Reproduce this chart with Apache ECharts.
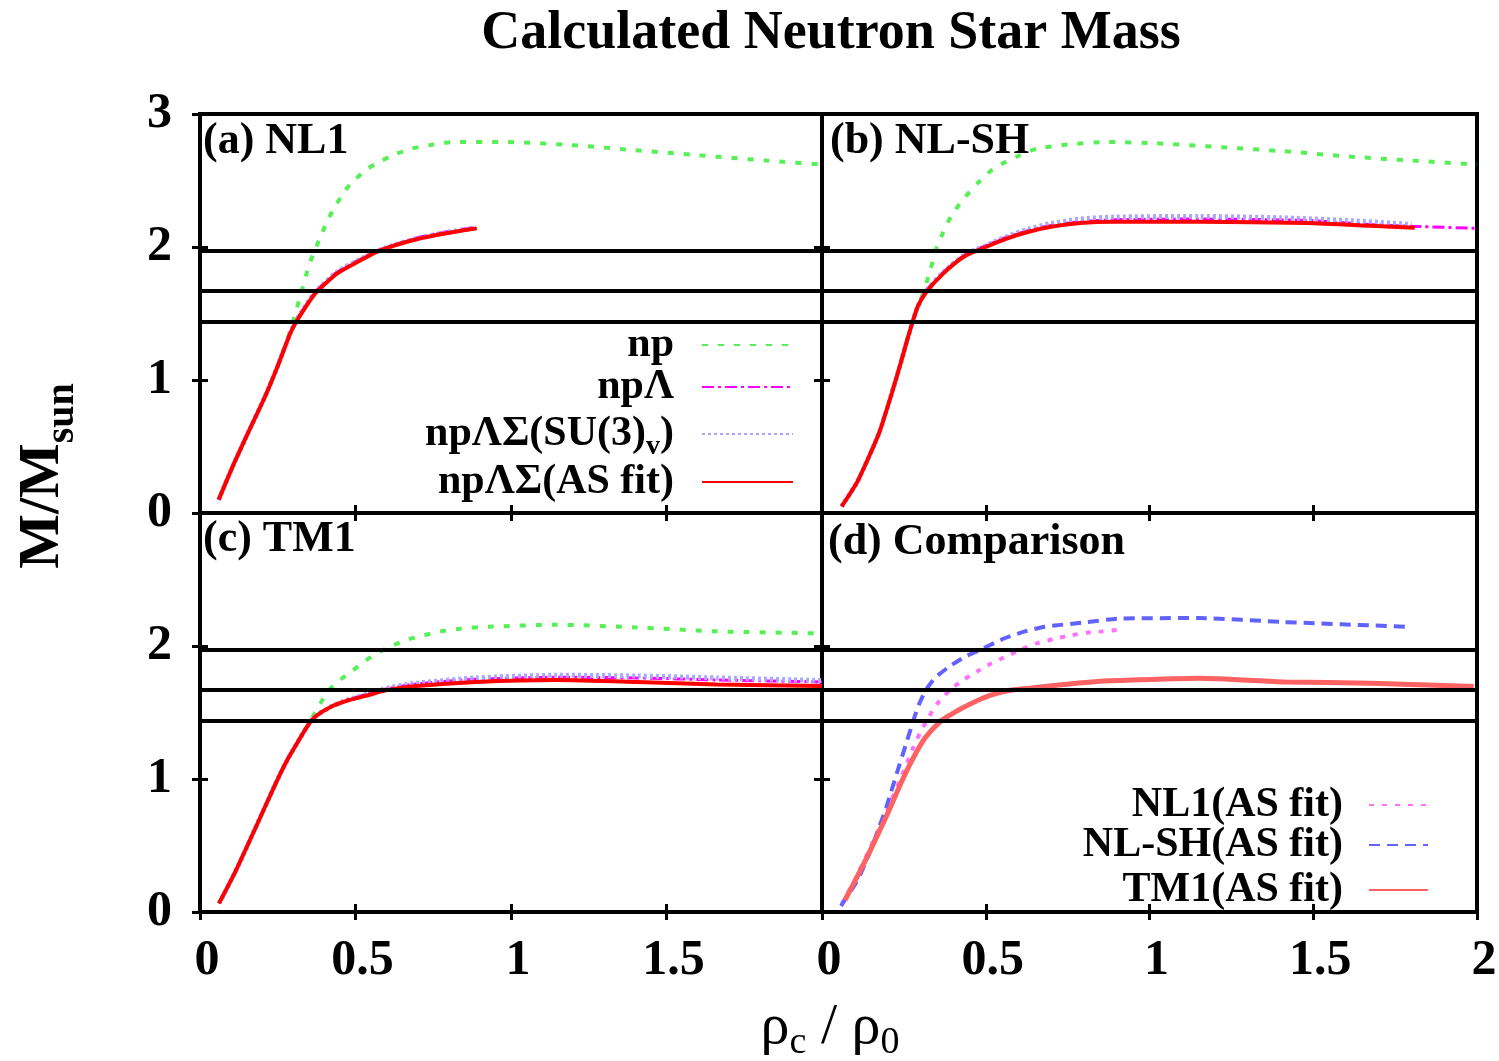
<!DOCTYPE html>
<html>
<head>
<meta charset="utf-8">
<title>Calculated Neutron Star Mass</title>
<script src="https://cdn.jsdelivr.net/npm/echarts@6/dist/echarts.min.js"></script>
<style>
	html, body { margin: 0; padding: 0; background: #fff; }
	#chart { width: 1499px; height: 1061px; }
</style>
</head>
<body>
<div id="chart"></div>
<script>
// axis ticks
var rhoTicks = [0, 0.5, 1, 1.5, 2];
var massTicks = [0, 1, 2, 3];
// observed masses (horizontal lines)
var obsMasses = [1.97, 1.67, 1.44];

var panelNames = ['(a) NL1', '(b) NL-SH', '(c) TM1', '(d) Comparison'];
var hyperonNames = ['np', 'npΛ', 'npΛΣ(SU(3)v)', 'npΛΣ(AS fit)'];
var compareNames = ['NL1(AS fit)', 'NL-SH(AS fit)', 'TM1(AS fit)'];

// (a) NL1  [rho_c/rho_0, M/Msun]
var nl1_np = [[0.06,0.10],[0.107,0.36],[0.158,0.62],[0.21,0.88],[0.249,1.10],[0.28,1.30],[0.30,1.45],[0.326,1.66],[0.35,1.86],[0.37,1.98],[0.39,2.09],[0.41,2.20],[0.436,2.31],[0.468,2.43],[0.50,2.51],[0.54,2.59],[0.585,2.65],[0.63,2.70],[0.68,2.74],[0.75,2.77],[0.82,2.79],[0.97,2.79],[1.17,2.77],[1.39,2.73],[1.60,2.69],[1.82,2.65],[2.0,2.62]];
var nl1_L = [[0.06,0.10],[0.107,0.36],[0.158,0.62],[0.21,0.88],[0.249,1.10],[0.29,1.35],[0.31,1.45],[0.34,1.56],[0.37,1.66],[0.44,1.81],[0.50,1.89],[0.57,1.97],[0.63,2.02],[0.70,2.07],[0.76,2.10],[0.82,2.125],[0.89,2.15]];
var nl1_SU3 = [[0.06,0.10],[0.107,0.36],[0.158,0.62],[0.21,0.88],[0.249,1.10],[0.29,1.35],[0.31,1.45],[0.34,1.56],[0.37,1.66],[0.44,1.81],[0.50,1.89],[0.57,1.97],[0.63,2.02],[0.70,2.065],[0.76,2.095],[0.82,2.12],[0.88,2.14]];
var nl1_AS = [[0.06,0.10],[0.107,0.36],[0.158,0.62],[0.21,0.88],[0.249,1.10],[0.29,1.35],[0.31,1.44],[0.34,1.55],[0.37,1.65],[0.44,1.80],[0.50,1.88],[0.57,1.965],[0.63,2.015],[0.70,2.06],[0.76,2.09],[0.82,2.115],[0.89,2.14]];

// (b) NL-SH
var nlsh_np = [[0.06,0.05],[0.109,0.24],[0.174,0.60],[0.213,0.90],[0.24,1.125],[0.266,1.35],[0.28,1.46],[0.311,1.67],[0.33,1.82],[0.348,1.98],[0.37,2.11],[0.396,2.24],[0.435,2.37],[0.475,2.48],[0.514,2.57],[0.553,2.63],[0.605,2.69],[0.657,2.74],[0.75,2.77],[0.866,2.79],[1.02,2.78],[1.22,2.75],[1.41,2.72],[1.61,2.68],[1.80,2.65],[2.0,2.62]];
var nlsh_L = [[0.06,0.05],[0.109,0.24],[0.174,0.60],[0.213,0.90],[0.24,1.125],[0.266,1.35],[0.292,1.55],[0.318,1.67],[0.37,1.81],[0.435,1.94],[0.50,2.01],[0.566,2.075],[0.631,2.125],[0.696,2.16],[0.788,2.19],[0.892,2.205],[1.15,2.21],[1.48,2.20],[1.675,2.17],[1.81,2.155],[2.0,2.14]];
var nlsh_SU3 = [[0.06,0.05],[0.109,0.24],[0.174,0.60],[0.213,0.90],[0.24,1.125],[0.266,1.35],[0.292,1.55],[0.318,1.67],[0.37,1.81],[0.435,1.94],[0.50,2.01],[0.566,2.08],[0.631,2.135],[0.696,2.175],[0.788,2.21],[0.892,2.225],[1.15,2.23],[1.40,2.22],[1.60,2.20],[1.80,2.17]];
var nlsh_AS = [[0.06,0.05],[0.109,0.24],[0.174,0.60],[0.213,0.90],[0.24,1.125],[0.266,1.35],[0.292,1.55],[0.318,1.66],[0.37,1.80],[0.435,1.93],[0.50,2.0],[0.566,2.065],[0.631,2.115],[0.696,2.15],[0.788,2.18],[0.892,2.19],[1.15,2.19],[1.48,2.18],[1.675,2.16],[1.81,2.145]];

// (c) TM1
var tm1_np = [[0.061,0.065],[0.113,0.30],[0.178,0.63],[0.242,0.96],[0.281,1.145],[0.32,1.30],[0.34,1.38],[0.378,1.53],[0.41,1.656],[0.442,1.73],[0.488,1.81],[0.526,1.88],[0.572,1.95],[0.617,2.0],[0.662,2.045],[0.72,2.08],[0.772,2.11],[0.837,2.13],[0.927,2.145],[1.147,2.16],[1.405,2.14],[1.663,2.11],[2.0,2.095]];
var tm1_L = [[0.061,0.065],[0.113,0.30],[0.178,0.63],[0.242,0.96],[0.281,1.145],[0.32,1.30],[0.346,1.40],[0.371,1.47],[0.423,1.545],[0.475,1.595],[0.54,1.64],[0.604,1.68],[0.695,1.715],[0.888,1.75],[1.147,1.765],[1.405,1.76],[1.663,1.745],[2.0,1.73]];
var tm1_SU3 = [[0.061,0.065],[0.113,0.30],[0.178,0.63],[0.242,0.96],[0.281,1.145],[0.32,1.30],[0.346,1.40],[0.371,1.47],[0.423,1.545],[0.475,1.595],[0.54,1.64],[0.604,1.685],[0.695,1.72],[0.888,1.76],[1.147,1.78],[1.405,1.775],[1.663,1.76],[2.0,1.74]];
var tm1_AS = [[0.061,0.065],[0.113,0.30],[0.178,0.63],[0.242,0.96],[0.281,1.145],[0.32,1.30],[0.346,1.40],[0.371,1.47],[0.423,1.545],[0.475,1.59],[0.54,1.63],[0.604,1.67],[0.695,1.70],[0.888,1.73],[1.147,1.745],[1.405,1.73],[1.663,1.71],[2.0,1.70]];

// (d) Comparison
var cmp_nl1 = [[0.06,0.06],[0.10,0.24],[0.141,0.45],[0.18,0.66],[0.21,0.83],[0.238,0.99],[0.258,1.11],[0.279,1.24],[0.30,1.35],[0.32,1.44],[0.35,1.56],[0.391,1.67],[0.431,1.744],[0.472,1.807],[0.518,1.87],[0.569,1.93],[0.605,1.97],[0.656,2.02],[0.711,2.055],[0.76,2.08],[0.808,2.10],[0.854,2.11],[0.90,2.12]];
var cmp_nlsh = [[0.058,0.045],[0.111,0.25],[0.157,0.52],[0.198,0.80],[0.228,1.04],[0.255,1.25],[0.279,1.44],[0.296,1.56],[0.315,1.66],[0.345,1.76],[0.386,1.84],[0.437,1.92],[0.482,1.97],[0.559,2.06],[0.62,2.11],[0.681,2.145],[0.793,2.175],[0.905,2.205],[1.15,2.21],[1.41,2.18],[1.78,2.145]];
var cmp_tm1 = [[0.07,0.09],[0.10,0.23],[0.141,0.43],[0.187,0.67],[0.213,0.81],[0.243,0.98],[0.279,1.16],[0.315,1.31],[0.36,1.43],[0.391,1.481],[0.427,1.532],[0.467,1.581],[0.518,1.632],[0.579,1.669],[0.64,1.685],[0.722,1.707],[0.823,1.73],[0.905,1.74],[1.153,1.757],[1.414,1.73],[1.675,1.72],[1.99,1.695]];

var panelData = [
	[nl1_np, nl1_L, nl1_SU3, nl1_AS],
	[nlsh_np, nlsh_L, nlsh_SU3, nlsh_AS],
	[tm1_np, tm1_L, tm1_SU3, tm1_AS],
	[cmp_nl1, cmp_nlsh, cmp_tm1]
];

var FONT = '"Liberation Serif", "Times New Roman", serif';

var lineStyles = {
	'np': {color: '#55f055', width: 4, type: [6, 10]},
	'npΛ': {color: '#ff00ff', width: 3, type: [12, 4, 3, 4]},
	'npΛΣ(SU(3)v)': {color: '#a8a8ff', width: 5, type: [3, 3]},
	'npΛΣ(AS fit)': {color: '#ff0000', width: 4, type: 'solid'},
	'NL1(AS fit)': {color: '#ff70ff', width: 4, type: [5, 8]},
	'NL-SH(AS fit)': {color: '#6262ff', width: 4, type: [11, 7]},
	'TM1(AS fit)': {color: '#ff6262', width: 5, type: 'solid'}
};

var grids = [
	{left: 200, top: 114, width: 622, height: 399},
	{left: 822, top: 114, width: 655, height: 399},
	{left: 200, top: 513, width: 622, height: 399},
	{left: 822, top: 513, width: 655, height: 399}
];

var chart = echarts.init(document.getElementById('chart'));

var tickStyle = {inside: true, length: 8, lineStyle: {color: '#000', width: 3}};
var labelFont = {fontSize: 50, fontWeight: 'bold', fontFamily: FONT, color: '#000'};

function axisX(g, pos, showLabel, showMax) {
	return {
		gridIndex: g, type: 'value', position: pos,
		min: rhoTicks[0], max: rhoTicks[rhoTicks.length - 1], interval: rhoTicks[1] - rhoTicks[0],
		axisLine: {show: false}, splitLine: {show: false}, axisTick: tickStyle,
		axisLabel: echarts.util.extend({
			show: showLabel, showMinLabel: true, showMaxLabel: showMax,
			margin: 24, padding: [0, 0, 0, 14]
		}, labelFont)
	};
}
function axisY(g, pos, showLabel, showMax) {
	return {
		gridIndex: g, type: 'value', position: pos,
		min: massTicks[0], max: massTicks[massTicks.length - 1], interval: massTicks[1] - massTicks[0],
		axisLine: {show: false}, splitLine: {show: false}, axisTick: tickStyle,
		axisLabel: echarts.util.extend({
			show: showLabel, showMinLabel: true, showMaxLabel: showMax, margin: 28
		}, labelFont)
	};
}

var xAxes = [], yAxes = [];
for (var g = 0; g < 4; g++) {
	xAxes.push(axisX(g, 'bottom', g >= 2, g === 3));
	yAxes.push(axisY(g, 'left', g === 0 || g === 2, g === 0));
}
for (var g = 0; g < 4; g++) {
	xAxes.push(axisX(g, 'top', false, false));
	yAxes.push(axisY(g, 'right', false, false));
}

var series = [];
panelData.forEach(function(list, g) {
	var names = g < 3 ? hyperonNames : compareNames;
	list.forEach(function(data, k) {
		var st = lineStyles[names[k]];
		var s = {
			type: 'line', name: names[k], data: data,
			xAxisIndex: g, yAxisIndex: g,
			symbol: 'none', smooth: 0.2,
			silent: true,
			lineStyle: {color: st.color, width: st.width, type: st.type},
			itemStyle: {color: st.color}
		};
		if (k === 0) {
			s.markLine = {
				silent: true, symbol: ['none', 'none'],
				label: {show: false},
				lineStyle: {color: '#000', width: 4, type: 'solid'},
				data: obsMasses.map(function(m) { return {yAxis: m}; })
			};
		}
		series.push(s);
	});
});

// legends: one per entry so text is right aligned
var legendText = {fontSize: 42, fontWeight: 'bold', fontFamily: FONT, color: '#000', lineHeight: 44,
	rich: {v: {fontSize: 28, fontWeight: 'bold', fontFamily: FONT, color: '#000', padding: [26, 0, 0, 0]}}};
function legendItem(name, right, top, iconW, gap) {
	return {
		data: [name], right: right, top: top, orient: 'vertical', align: 'right',
		padding: 0, itemWidth: iconW, itemHeight: 12, selectedMode: false,
		itemStyle: {opacity: 0},
		formatter: function(n) { return n.replace('(3)v', '(3){v|v}'); },
		textStyle: echarts.util.extend({padding: [0, gap, 0, 0]}, legendText)
	};
}
var legendRowsA = [345, 387, 434, 482];
var legendRowsD = [805, 845, 890];
var legends = [];
hyperonNames.forEach(function(n, i) { legends.push(legendItem(n, 705, legendRowsA[i] - 22, 91, 23)); });
compareNames.forEach(function(n, i) { legends.push(legendItem(n, 70, legendRowsD[i] - 22, 59, 21)); });

function label(text, x, y, size, align) {
	return {type: 'text', x: x, y: y, silent: true, style: {
		text: text, fontSize: size, fontWeight: 'bold', fontFamily: FONT, fill: '#000',
		align: align, verticalAlign: 'middle'}};
}

var graphics = [label('Calculated Neutron Star Mass', 831, 34, 54, 'center')];
var panelPos = [[203, 142], [830, 142], [203, 540], [828, 543]];
panelNames.forEach(function(t, i) { graphics.push(label(t, panelPos[i][0], panelPos[i][1], 44, 'left')); });
graphics.push({
	type: 'text', x: 43, y: 476, rotation: Math.PI / 2, silent: true,
	style: {
		text: '{m|M/M}{s|sun}', align: 'center', verticalAlign: 'middle', fill: '#000',
		rich: {
			m: {fontSize: 58, fontWeight: 'bold', fontFamily: FONT, lineHeight: 60},
			s: {fontSize: 40, fontWeight: 'bold', fontFamily: FONT, padding: [40, 0, 0, 0]}
		}
	}
});
graphics.push({
	type: 'text', x: 830, y: 1028, silent: true,
	style: {
		text: '{r|ρ}{s|c}{r| / ρ}{s|0}', align: 'center', verticalAlign: 'middle', fill: '#000',
		rich: {
			r: {fontSize: 58, fontFamily: FONT, lineHeight: 60},
			s: {fontSize: 38, fontFamily: FONT, padding: [30, 0, 0, 0]}
		}
	}
});

chart.setOption({
	backgroundColor: '#fff',
	animation: false,
	grid: grids.map(function(r) {
		return echarts.util.extend({show: true, borderColor: '#000', borderWidth: 4,
			backgroundColor: 'transparent', containLabel: false, outerBoundsMode: 'none'}, r);
	}),
	xAxis: xAxes,
	yAxis: yAxes,
	legend: legends,
	graphic: graphics,
	series: series
});
</script>
</body>
</html>
